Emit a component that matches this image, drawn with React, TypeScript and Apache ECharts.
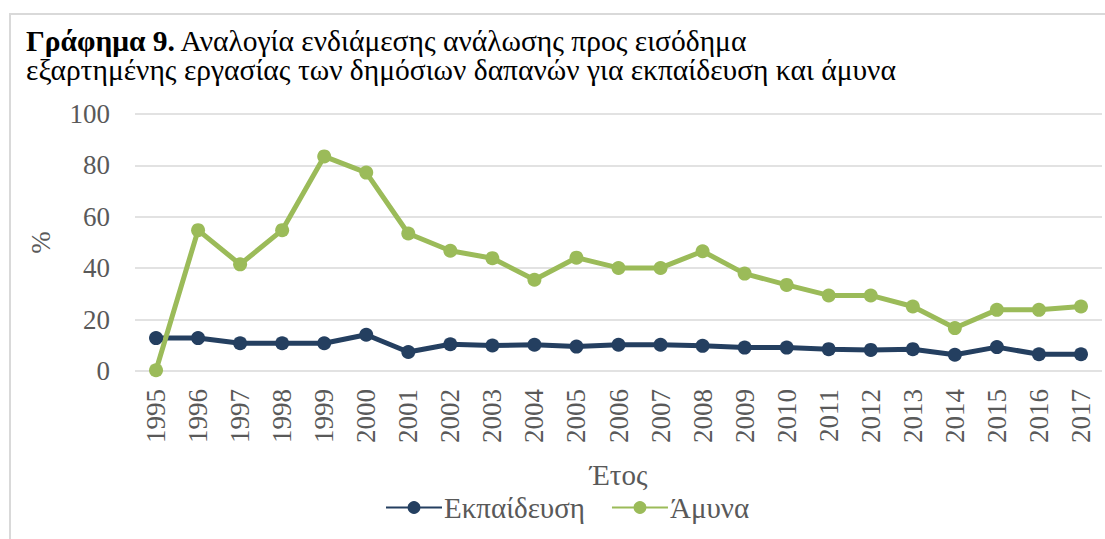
import React, { useEffect, useRef } from "react";
import * as echarts from "echarts";

const years = ["1995","1996","1997","1998","1999","2000","2001","2002","2003","2004","2005","2006","2007","2008","2009","2010","2011","2012","2013","2014","2015","2016","2017"];
const education = [12.8,12.8,10.8,10.8,10.8,14.1,7.4,10.4,9.9,10.2,9.5,10.2,10.2,9.8,9.1,9.1,8.5,8.2,8.5,6.3,9.3,6.5,6.5];
const defence = [0.3,54.8,41.5,54.8,83.5,77.2,53.5,46.8,43.9,35.5,44.1,40.1,40.1,46.6,37.9,33.5,29.4,29.4,25.1,16.7,23.8,23.8,25.1];
const yTicks = { min: 0, max: 100, interval: 20 };
const seriesNames = ["Εκπαίδευση", "Άμυνα"];
const titleBold = "Γράφημα 9.";
const titleRest1 = " Αναλογία ενδιάμεσης ανάλωσης προς εισόδημα";
const titleLine2 = "εξαρτημένης εργασίας των δημόσιων δαπανών για εκπαίδευση και άμυνα";

const FONT = "Liberation Serif, DejaVu Serif, serif";

export default function App() {
  const ref = useRef<HTMLDivElement>(null);
  useEffect(() => {
    if (!ref.current) return;
    const chart = echarts.init(ref.current, undefined, { renderer: "svg" });
    chart.setOption({
      animation: false,
      backgroundColor: "#ffffff",
      textStyle: { fontFamily: FONT },
      graphic: [
        {
          type: "rect",
          shape: { x: 10, y: 14, width: 1200, height: 700 },
          style: { fill: "none", stroke: "#D9D9D9", lineWidth: 2 },
          silent: true,
        },
      ],
      title: {
        left: 21,
        top: 21,
        text: "{b|" + titleBold + "}{n|" + titleRest1 + "}\n{n|" + titleLine2 + "}",
        textStyle: {
          fontFamily: FONT,
          rich: {
            b: { fontFamily: FONT, fontWeight: "bold", fontSize: 29.5, color: "#000", lineHeight: 29 },
            n: { fontFamily: FONT, fontWeight: "normal", fontSize: 29.5, color: "#000", lineHeight: 29 },
          },
        },
      },
      legend: {
        top: 488,
        left: 380,
        itemWidth: 56,
        itemHeight: 16,
        itemGap: 26,
        textStyle: { fontFamily: FONT, fontSize: 29, color: "#595959", padding: [0, 0, 0, -3] },
        data: seriesNames,
      },
      grid: { left: 135, right: 3, top: 114, bottom: 168 },
      xAxis: {
        type: "category",
        data: years,
        boundaryGap: true,
        axisLine: { show: false },
        axisTick: { show: false },
        axisLabel: { rotate: 90, fontSize: 27, color: "#595959", fontFamily: FONT, margin: 18, interval: 0 },
        name: "Έτος",
        nameLocation: "middle",
        nameGap: 89,
        nameTextStyle: { fontSize: 29, color: "#595959", fontFamily: FONT },
      },
      yAxis: {
        type: "value",
        min: yTicks.min,
        max: yTicks.max,
        interval: yTicks.interval,
        axisLine: { show: false },
        axisTick: { show: false },
        splitLine: { lineStyle: { color: "#D9D9D9", width: 1.5 } },
        axisLabel: { fontSize: 27, color: "#595959", fontFamily: FONT, margin: 25 },
        name: "%",
        nameLocation: "middle",
        nameGap: 81,
        nameRotate: 90,
        nameTextStyle: { fontSize: 27, color: "#595959", fontFamily: FONT },
      },
      series: [
        {
          name: seriesNames[0],
          type: "line",
          data: education,
          symbol: "circle",
          symbolSize: 14,
          lineStyle: { width: 5, color: "#243F60" },
          itemStyle: { color: "#243F60" },
        },
        {
          name: seriesNames[1],
          type: "line",
          data: defence,
          symbol: "circle",
          symbolSize: 14,
          lineStyle: { width: 5, color: "#9BBB59" },
          itemStyle: { color: "#9BBB59" },
        },
      ],
    });
    return () => chart.dispose();
  }, []);
  return (
    <div
      ref={ref}
      style={{ position: "absolute", left: 0, top: 0, width: 1105, height: 539 }}
    />
  );
}
